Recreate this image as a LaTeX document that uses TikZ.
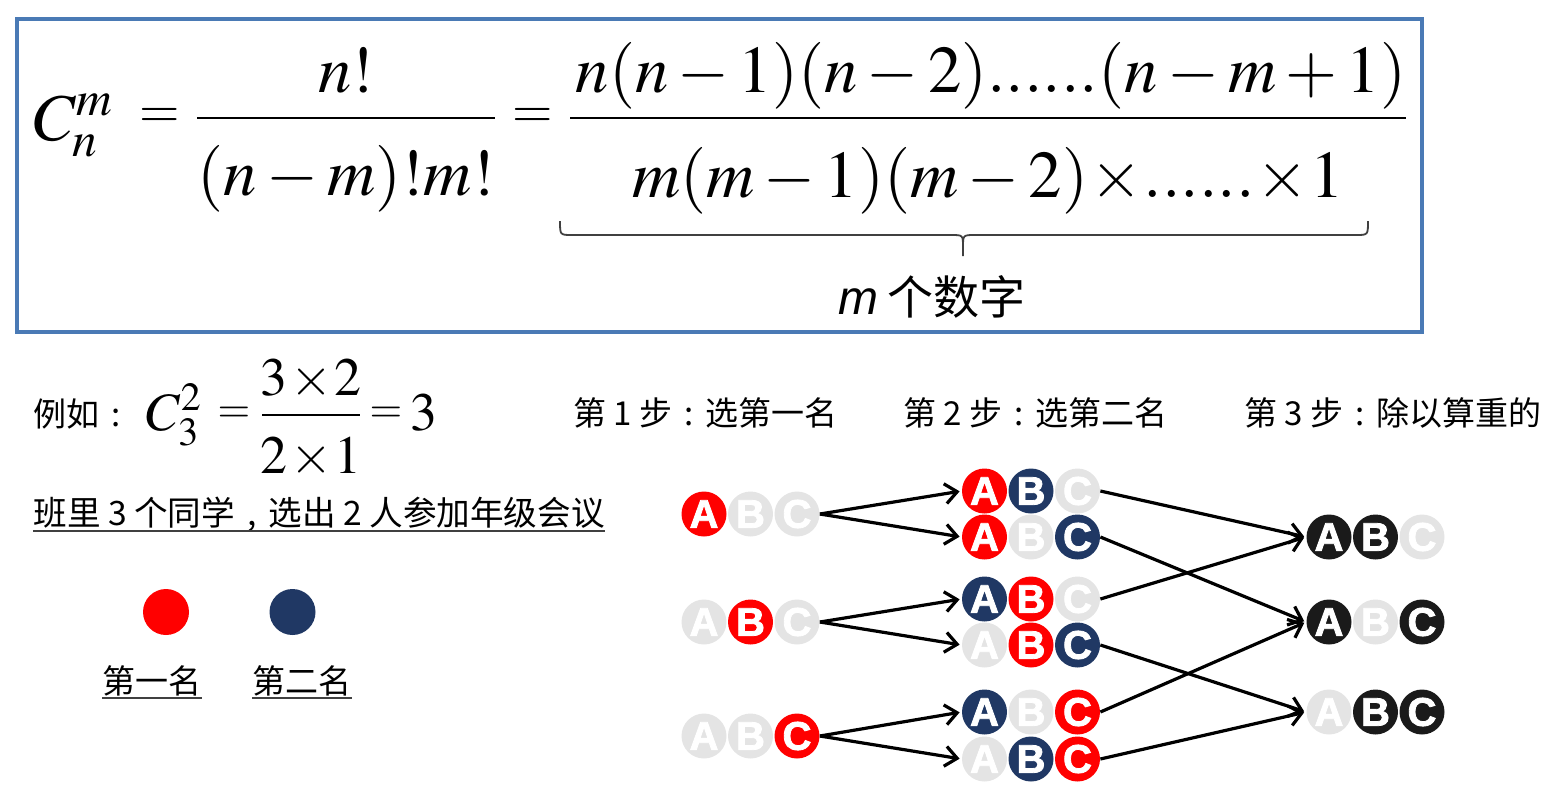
\documentclass[tikz,border=0pt]{standalone}
\usepackage{mathptmx}
\usepackage[no-math]{fontspec}
\newfontfamily\cjk{Noto Sans CJK SC}
\newfontfamily\lsans{Liberation Sans}
\newfontfamily\ballfont{Liberation Sans}[FakeBold=2]
\usetikzlibrary{arrows.meta,calc}
\definecolor{boxblue}{HTML}{4A7AB5}
\definecolor{fr}{HTML}{FF0000}
\definecolor{fb}{HTML}{203864}
\definecolor{fg}{HTML}{E4E4E4}
\definecolor{fk}{HTML}{1A1A1A}
\definecolor{ulc}{HTML}{404040}
\newcommand\fsz[1]{\fontsize{#1}{#1}\selectfont}
\newcommand\fcolon{\makebox[1em]{:}}
\newcommand\fcomma{\makebox[1em]{,}}
\newcommand\tm{\mkern-2mu\times\mkern-2mu}
\newcommand\trio[6]{%
  \node[ball,fill=#4] (#1A) at (#2,#3) {A};
  \node[ball,fill=#5] (#1B) at ({#2+46.5},#3) {B};
  \node[ball,fill=#6] (#1C) at ({#2+93},#3) {C};}
\tikzset{
  ball/.style={circle,minimum size=22.5pt,inner sep=0pt,text=white,
    font=\ballfont\bfseries\fsz{20}},
  dotmark/.style={circle,minimum size=23pt,inner sep=0pt},
  cn/.style={font=\cjk\fsz{16.5},inner sep=0pt},
  bigm/.style={inner sep=0pt,font=\fsz{33.4}},
  bigeq/.style={inner sep=0pt,font=\fsz{26}},
  smallm/.style={inner sep=0pt,font=\fsz{27}},
  smalleq/.style={inner sep=0pt,font=\fsz{21}},
  arr/.style={line width=1.6pt,-{Straight Barb[length=6pt,width=10pt]},shorten >=1pt},
  ul/.style={line width=1pt,ulc},
}
\begin{document}
\begin{tikzpicture}[x=0.5pt,y=-0.5pt]
\useasboundingbox (0,0) rectangle (1560,789);
% frame
\draw[boxblue,line width=2pt] (17,19) rectangle (1422,332);
% main formula
\node[bigm,anchor=base west] (Cnm) at (33,140) {$C_n^m$};
\node[bigeq] (eqa) at (160,118) {$=$};
\node[bigm,anchor=base] (numa) at (346,92) {$n!$};
\node[bigm,anchor=base] (dena) at (346,195) {$(n-m)!m!$};
\draw[line width=1.2pt] (197,118) -- (495,118);
\node[bigeq] (eqb) at (533,118) {$=$};
\node[bigm,anchor=base] (numb) at (991,92) {$n(n-1)(n-2)......(n-m+1)$};
\node[bigm,anchor=base] (denb) at (988,197) {$m(m-1)(m-2)\tm......\tm1$};
\draw[line width=1.2pt] (570,118) -- (1406,118);
% brace
\coordinate (bl) at (560,221);
\coordinate (br) at (1368,221);
\coordinate (bt) at (963,256);
\draw[ulc,line width=0.9pt] (bl) .. controls (560,235) .. (572,235) -- (951,235)
  .. controls (963,235) .. (963,247) -- (bt);
\draw[ulc,line width=0.9pt] (br) .. controls (1368,235) .. (1356,235) -- (975,235)
  .. controls (963,235) .. (963,247);
\node[inner sep=0pt] (mnum) at (932,297) {{\lsans\itshape\fsz{24}m}\hspace{5pt}{\cjk\fsz{23}个数字}};
% example
\node[cn,anchor=west] (eg) at (33,414) {例如\fcolon};
\node[smallm,anchor=base west] (Csm) at (146,430) {$C_3^2$};
\node[smalleq] (eqc) at (234,415) {$=$};
\node[smallm,anchor=base] (numc) at (311,395) {$3{\mkern1mu\times\mkern1mu}2$};
\node[smallm,anchor=base] (denc) at (311,473) {$2{\mkern1mu\times\mkern1mu}1$};
\draw[line width=1pt] (262,415) -- (360,415);
\node[smalleq] (eqd) at (386,415) {$=$};
\node[smallm,anchor=base west] (res) at (410,430) {$3$};
\node[cn,anchor=base west,font=\cjk\fsz{16.8}] (cls) at (33,525) {班里 3 个同学\fcomma 选出 2 人参加年级会议};
\draw[ul] ([yshift=-3pt]cls.base west) -- ([yshift=-3pt]cls.base east);
% legend
\node[dotmark,fill=fr] (first) at (166,612) {};
\node[dotmark,fill=fb] (second) at (292.5,612) {};
\node[cn,anchor=base] (lfirst) at (152,693) {第一名};
\node[cn,anchor=base] (lsecond) at (302,693) {第二名};
\draw[ul] ([yshift=-2.5pt]lfirst.base west) -- ([yshift=-2.5pt]lfirst.base east);
\draw[ul] ([yshift=-2.5pt]lsecond.base west) -- ([yshift=-2.5pt]lsecond.base east);
% step titles
\node[cn,anchor=west] (st1) at (573,413) {第 1 步\fcolon 选第一名};
\node[cn,anchor=west] (st2) at (903,413) {第 2 步\fcolon 选第二名};
\node[cn,anchor=west] (st3) at (1244,413) {第 3 步\fcolon 除以算重的};
% balls
\trio{s1}{704}{514}{fr}{fg}{fg}
\trio{s2}{704}{622}{fg}{fr}{fg}
\trio{s3}{704}{736}{fg}{fg}{fr}
\trio{t1}{984.5}{491}{fr}{fb}{fg}
\trio{t2}{984.5}{537}{fr}{fg}{fb}
\trio{t3}{984.5}{599}{fb}{fr}{fg}
\trio{t4}{984.5}{645}{fg}{fr}{fb}
\trio{t5}{984.5}{712}{fb}{fg}{fr}
\trio{t6}{984.5}{759}{fg}{fb}{fr}
\trio{u1}{1329}{537}{fk}{fk}{fg}
\trio{u2}{1329}{622}{fk}{fg}{fk}
\trio{u3}{1329}{712}{fg}{fk}{fk}
% arrows
\draw[arr] (s1C.east) -- (t1A.west);
\draw[arr] (s1C.east) -- (t2A.west);
\draw[arr] (s2C.east) -- (t3A.west);
\draw[arr] (s2C.east) -- (t4A.west);
\draw[arr] (s3C.east) -- (t5A.west);
\draw[arr] (s3C.east) -- (t6A.west);
\draw[arr] (t1C.east) -- (u1A.west);
\draw[arr] (t2C.east) -- (u2A.west);
\draw[arr] (t3C.east) -- (u1A.west);
\draw[arr] (t4C.east) -- (u3A.west);
\draw[arr] (t5C.east) -- (u2A.west);
\draw[arr] (t6C.east) -- (u3A.west);
\end{tikzpicture}
\end{document}
